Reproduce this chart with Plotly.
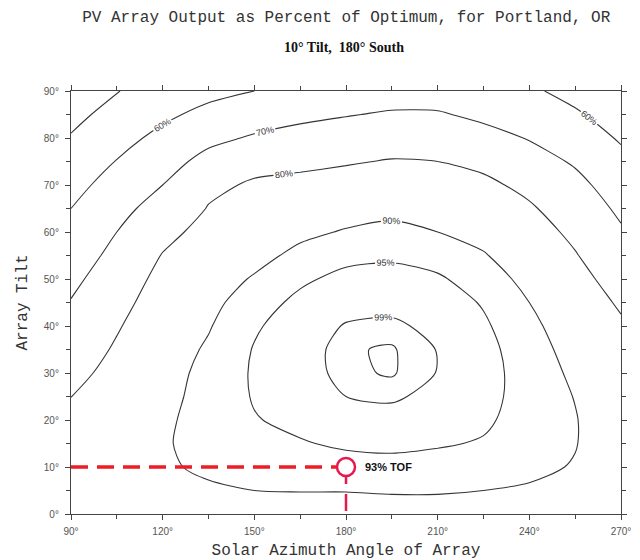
import numpy as np
import plotly.graph_objects as go

# ---------------- data ----------------
azimuth = [90, 105, 120, 135, 150, 165, 180, 195, 210, 225, 240, 255, 270]
tilt = [0, 5, 10, 15, 20, 25, 30, 35, 40, 45, 50, 55, 60, 65, 70, 75, 80, 85, 90]

# output in % of optimum, one list per azimuth column (tilt 0..90 step 5)
out_az090 = [88.5, 88.0, 86.8, 85.0, 82.6, 79.9, 77.2, 74.6, 72.4, 70.4, 68.0, 65.5, 62.8, 60.0, 57.0, 54.0, 50.7, 47.3, 44.0]
out_az105 = [88.5, 88.8, 88.5, 87.6, 86.2, 84.7, 83.0, 81.1, 79.2, 77.0, 74.8, 72.4, 70.0, 67.0, 63.8, 60.3, 57.0, 53.4, 49.7]
out_az120 = [88.5, 89.2, 89.6, 89.7, 89.4, 88.8, 88.2, 87.2, 86.0, 84.5, 82.6, 80.4, 77.5, 74.0, 70.0, 66.2, 62.3, 58.2, 54.0]
out_az135 = [88.5, 89.6, 90.5, 91.0, 91.3, 91.4, 91.3, 90.7, 89.6, 88.3, 86.8, 85.0, 82.8, 80.4, 78.2, 73.0, 67.7, 62.5, 57.5]
out_az150 = [88.5, 90.0, 91.8, 93.4, 94.7, 95.4, 95.6, 95.3, 94.4, 93.0, 90.6, 88.0, 85.5, 83.2, 81.0, 77.5, 71.0, 65.5, 60.0]
out_az165 = [88.5, 90.1, 92.4, 94.6, 96.3, 97.5, 98.1, 98.1, 97.5, 96.1, 94.2, 91.6, 88.6, 85.3, 82.0, 78.3, 73.3, 67.8, 62.5]
out_az180 = [88.5, 90.1, 93.0, 95.8, 97.8, 99.0, 99.6, 99.7, 99.2, 97.9, 96.3, 93.7, 90.5, 87.3, 83.3, 79.3, 74.8, 69.5, 64.0]
out_az195 = [88.5, 90.3, 93.3, 96.2, 98.2, 99.3, 99.9, 99.9, 99.4, 98.3, 96.8, 94.2, 91.5, 88.4, 84.7, 80.5, 76.0, 71.0, 65.5]
out_az210 = [88.5, 90.3, 93.0, 95.5, 97.3, 98.4, 98.95, 98.95, 98.4, 97.4, 95.6, 93.2, 90.0, 87.2, 84.0, 80.0, 75.8, 70.9, 65.3]
out_az225 = [88.5, 90.0, 92.4, 94.6, 95.8, 96.4, 96.6, 96.4, 95.7, 94.6, 92.9, 90.5, 87.8, 85.0, 81.8, 78.0, 73.2, 68.0, 62.8]
out_az240 = [88.5, 89.5, 91.0, 92.2, 92.9, 93.2, 93.1, 92.6, 91.6, 90.0, 88.2, 86.0, 83.6, 81.0, 77.9, 73.8, 69.5, 65.5, 61.5]
out_az255 = [88.5, 89.1, 89.7, 90.2, 90.3, 89.8, 88.9, 87.7, 86.2, 84.4, 82.5, 80.5, 78.2, 75.6, 72.5, 69.0, 65.3, 61.2, 57.0]
out_az270 = [88.5, 88.3, 87.6, 86.7, 85.6, 84.4, 83.4, 82.4, 81.0, 79.0, 76.8, 74.0, 71.0, 68.3, 65.5, 62.5, 59.0, 55.5, 52.0]

contour_levels = [50, 60, 70, 80, 90, 95, 99, 99.8]
labelled_levels = [60, 70, 80, 90, 95, 99]

tof_azimuth = 180
tof_tilt = 10
tof_value = 93

x_tick_vals = [90, 120, 150, 180, 210, 240, 270]
x_tick_text = ["90°", "120°", "150°", "180°", "210°", "240°", "270°"]
y_tick_vals = [0, 10, 20, 30, 40, 50, 60, 70, 80, 90]
y_tick_text = ["0°", "10°", "20°", "30°", "40°", "50°", "60°", "70°", "80°", "90°"]

# ---------------- figure ----------------
columns = [out_az090, out_az105, out_az120, out_az135, out_az150, out_az165, out_az180,
           out_az195, out_az210, out_az225, out_az240, out_az255, out_az270]
z = np.column_stack(columns) / 100.0  # rows = tilt, cols = azimuth (fraction)

LINE = "#353535"
MONO = "Liberation Mono, Courier New, monospace"

fig = go.Figure()
for lev in contour_levels:
    L = lev / 100.0
    fig.add_trace(go.Contour(
        x=azimuth, y=tilt, z=z,
        autocontour=False,
        contours=dict(start=L, end=L, size=0.01, coloring="none",
                      showlabels=lev in labelled_levels,
                      labelformat=".0%",
                      labelfont=dict(family="Liberation Sans, Arial", size=9, color=LINE)),
        line=dict(color=LINE, width=1.1, smoothing=0.8),
        showscale=False, hoverinfo="skip",
    ))

# Dashed guide lines to the TOF point
fig.add_trace(go.Scatter(
    x=[azimuth[0], tof_azimuth], y=[tof_tilt, tof_tilt], mode="lines",
    line=dict(color="#ee1c24", width=3.5, dash="17px,9px"), hoverinfo="skip", showlegend=False))
fig.add_trace(go.Scatter(
    x=[tof_azimuth, tof_azimuth], y=[tof_tilt, tilt[0]], mode="lines",
    line=dict(color="#e8184f", width=2.5, dash="17px,10px"), hoverinfo="skip", showlegend=False))
fig.add_trace(go.Scatter(
    x=[tof_azimuth], y=[tof_tilt], mode="markers",
    marker=dict(symbol="circle", size=18, color="white", line=dict(color="#e8184f", width=2.5)),
    hoverinfo="skip", showlegend=False))

fig.add_annotation(x=tof_azimuth, y=tof_tilt, xref="x", yref="y", text=f"<b>{tof_value}% TOF</b>",
                   showarrow=False, xanchor="left", yanchor="middle", xshift=17,
                   font=dict(family="Liberation Sans, Arial", size=11, color="#111"))

fig.add_annotation(x=0.496, y=1.104, xref="paper", yref="paper", text="<b>10° Tilt,  180° South</b>",
                   showarrow=False, xanchor="center", yanchor="middle",
                   font=dict(family="Liberation Serif, Times New Roman", size=14, color="#111"))

axis_common = dict(showline=True, linecolor="#444", linewidth=1.2, mirror="allticks",
                   ticks="outside", ticklen=5, tickcolor="#444", tickwidth=1,
                   showgrid=False, zeroline=False, automargin=False,
                   tickfont=dict(family="Liberation Sans, Arial", size=10, color="#555"))

fig.update_xaxes(range=[azimuth[0], azimuth[-1]], tickvals=x_tick_vals, ticktext=x_tick_text,
                 minor=dict(dtick=15, ticks="outside", ticklen=4, tickcolor="#444"),
                 ticklabelstandoff=3,
                 title=dict(text="Solar Azimuth Angle of Array", standoff=8,
                            font=dict(family=MONO, size=16, color="#333")),
                 **axis_common)
fig.update_yaxes(range=[tilt[0], tilt[-1]], tickvals=y_tick_vals, ticktext=y_tick_text,
                 minor=dict(dtick=5, ticks="outside", ticklen=4, tickcolor="#444"),
                 ticklabelstandoff=4,
                 title=dict(text="Array Tilt", standoff=12,
                            font=dict(family=MONO, size=16, color="#333")),
                 **axis_common)

fig.update_layout(
    width=640, height=560,
    margin=dict(l=71, r=19, t=91, b=46),
    paper_bgcolor="white", plot_bgcolor="white",
    showlegend=False,
    title=dict(text="PV Array Output as Percent of Optimum, for Portland, OR",
               x=0.541, xanchor="center", y=0.971, yanchor="middle", xref="container", yref="container",
               font=dict(family=MONO, size=16, color="#333")),
)

fig.write_html("out.html")
